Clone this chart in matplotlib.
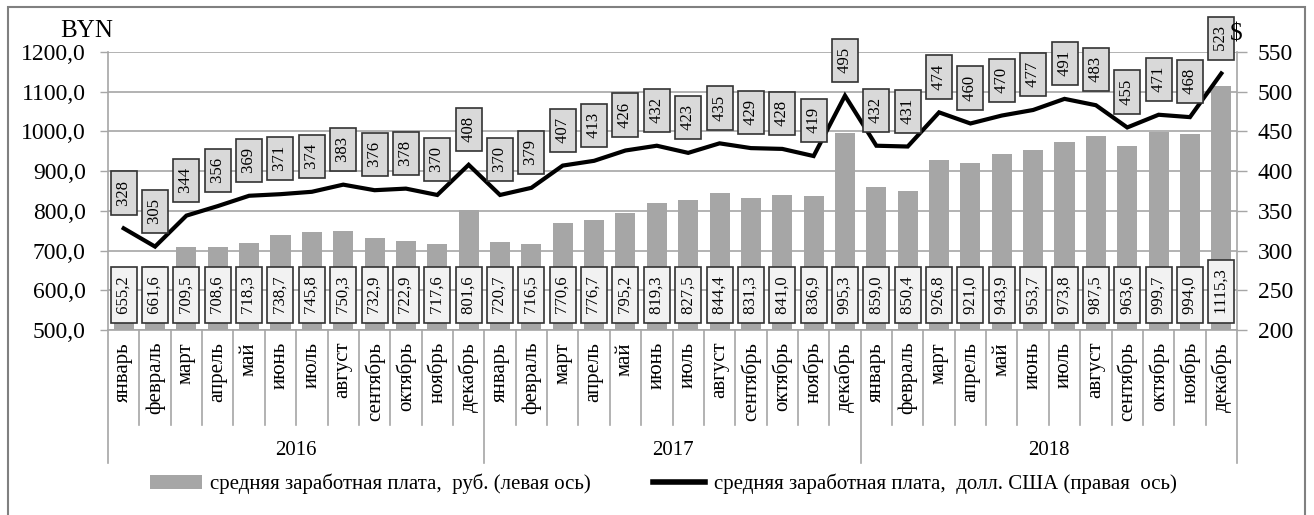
import matplotlib
matplotlib.use("Agg")
import matplotlib.pyplot as plt
from matplotlib.patches import Rectangle, Patch
from matplotlib.lines import Line2D
import numpy as np

plt.rcParams['font.family'] = ['Liberation Serif', 'DejaVu Serif']

months = ["январь", "февраль", "март", "апрель", "май", "июнь", "июль",
          "август", "сентябрь", "октябрь", "ноябрь", "декабрь"]
years = ["2016", "2017", "2018"]
wage_byn = [655.2, 661.6, 709.5, 708.6, 718.3, 738.7, 745.8, 750.3, 732.9, 722.9, 717.6, 801.6,
            720.7, 716.5, 770.6, 776.7, 795.2, 819.3, 827.5, 844.4, 831.3, 841.0, 836.9, 995.3,
            859.0, 850.4, 926.8, 921.0, 943.9, 953.7, 973.8, 987.5, 963.6, 999.7, 994.0, 1115.3]
wage_usd = [328, 305, 344, 356, 369, 371, 374, 383, 376, 378, 370, 408,
            370, 379, 407, 413, 426, 432, 423, 435, 429, 428, 419, 495,
            432, 431, 474, 460, 470, 477, 491, 483, 455, 471, 468, 523]
left_ticks = [500, 600, 700, 800, 900, 1000, 1100, 1200]
right_ticks = [200, 250, 300, 350, 400, 450, 500, 550]
legend_labels = ["средняя заработная плата,  руб. (левая ось)",
                 "средняя заработная плата,  долл. США (правая  ось)"]

W, H = 1314, 515
fig = plt.figure(figsize=(W / 100, H / 100), dpi=100)
ax = fig.add_axes([108 / W, 1 - 330 / H, (1237 - 108) / W, (330 - 52) / H])
ax2 = ax.twinx()

n = len(wage_byn)
x = np.arange(n)
grid_c = "#a6a6a6"
bar_c = "#a6a6a6"

ax.bar(x, wage_byn, width=0.64, color=bar_c, zorder=2)
ax.set_xlim(-0.5, n - 0.5)
ax.set_ylim(left_ticks[0], left_ticks[-1])
ax.set_yticks(left_ticks)
ax.set_yticklabels([f"{v:.1f}".replace(".", ",") for v in left_ticks], fontsize=17)
ax.yaxis.grid(True, color=grid_c, lw=1.2)
ax.set_axisbelow(True)
ax.set_xticks([])
ax.tick_params(axis='y', length=6, width=1, color=grid_c, pad=10)
for s in ["left", "right", "bottom"]:
    ax.spines[s].set_color(grid_c)
    ax.spines[s].set_linewidth(1.2)
ax.spines["top"].set_visible(False)

ax2.plot(x, wage_usd, color="black", lw=3, zorder=3, solid_joinstyle='miter')
ax2.set_ylim(right_ticks[0], right_ticks[-1])
ax2.set_yticks(right_ticks)
ax2.set_yticklabels([str(v) for v in right_ticks], fontsize=17)
ax2.tick_params(axis='y', length=7, width=1, color=grid_c, pad=8)
for s in ["left", "right", "bottom", "top"]:
    ax2.spines[s].set_visible(False)

box_pad = 0.3
# bar labels
for xi, v in zip(x, wage_byn):
    ax.annotate(" " + f"{v:.1f}".replace(".", ",") + " ", (xi, left_ticks[0]), xytext=(0, 9),
                textcoords="offset points", rotation=90, ha="center", va="bottom",
                fontsize=12, zorder=5,
                bbox=dict(boxstyle=f"square,pad={box_pad}", fc="#f2f2f2", ec="#333333", lw=1.2))

# line labels
for xi, v in zip(x, wage_usd):
    ax2.annotate(" " + str(v) + " ", (xi, v), xytext=(0, 13.5), textcoords="offset points",
                 rotation=90, ha="center", va="bottom", fontsize=12, zorder=6,
                 annotation_clip=False,
                 bbox=dict(boxstyle=f"square,pad={box_pad}", fc="#d9d9d9", ec="#333333", lw=1.2))

# category axis: month labels, separators, year labels
trans = ax.get_xaxis_transform()
px = 1 / (330 - 52)  # one pixel in axes-fraction height
for b in np.arange(-0.5, n, 1.0):
    is_year = (b + 0.5) % 12 == 0
    y_end = -(463 - 330) * px if is_year else -(425 - 330) * px
    ax.plot([b, b], [0, y_end], transform=trans, color=grid_c, lw=1.2, clip_on=False)
for xi in x:
    ax.text(xi, -12 * px, months[xi % 12], transform=trans, rotation=90,
            ha="center", va="top", fontsize=15)
for yi, yr in enumerate(years):
    ax.text(yi * 12 + 5.5, -(450 - 330) * px, yr, transform=trans,
            ha="center", va="center", fontsize=15)

# axis titles
fig.text(87 / W, 1 - 31 / H, "BYN", ha="center", va="center", fontsize=18)
fig.text(1236 / W, 1 - 34 / H, "$", ha="center", va="center", fontsize=18)

# legend
handles = [Patch(facecolor=bar_c, edgecolor="none"),
           Line2D([], [], color="black", lw=4)]
fig.legend(handles, legend_labels, loc="center", bbox_to_anchor=(663 / W, 1 - 484 / H),
           ncol=2, frameon=False, fontsize=15, handlelength=2.5, handleheight=0.6,
           handletextpad=0.4, columnspacing=3.0)

# outer frame
fig.patches.append(Rectangle((8 / W, -0.1), (1305 - 8) / W, 1.1 - 7 / H,
                             transform=fig.transFigure, fill=False,
                             ec="#808080", lw=1.5))

fig.savefig("out.png", dpi=100)
